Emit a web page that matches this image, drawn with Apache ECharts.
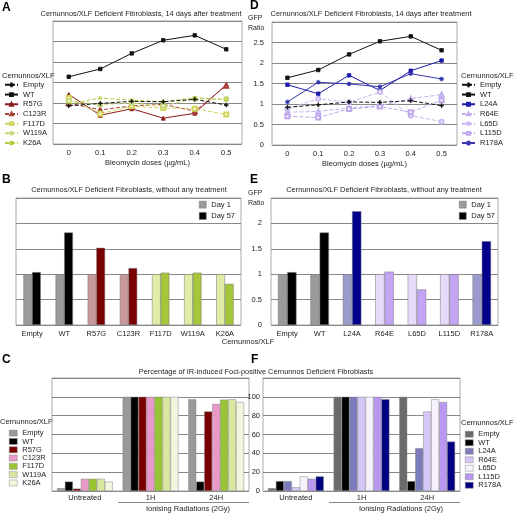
<!DOCTYPE html>
<html><head><meta charset="utf-8">
<script src="https://cdn.jsdelivr.net/npm/echarts@6/dist/echarts.min.js"></script>
<style>html,body{margin:0;padding:0;background:#fff}#c{width:514px;height:513px}</style>
</head><body><div id="c"></div>
<script>
// ---------- DATA ----------
const dosesCats = ['0','0.1','0.2','0.3','0.4','0.5'];
const namesA = ['Empty','WT','R57G','C123R','F117D','W119A','K26A'];
const a_empty = [0.93, 0.99, 1.04, 1.03, 1.09, 0.95];
const a_wt    = [1.64, 1.83, 2.21, 2.53, 2.65, 2.31];
const a_r57g  = [1.21, 0.70, 0.86, 0.63, 0.75, 1.45];
const a_c123r = [1.00, 0.83, 0.93, 0.97, 0.80, 1.42];
const a_f117d = [1.12, 0.74, 0.92, 0.88, 0.86, 0.72];
const a_w119a = [1.05, 0.96, 1.00, 0.93, 1.10, 1.10];
const a_k26a  = [0.97, 1.12, 1.07, 1.03, 1.13, 1.08];

const namesD = ['Empty','WT','L24A','R64E','L65D','L115D','R178A'];
const d_empty = [0.92, 0.98, 1.05, 1.04, 1.08, 0.96];
const d_wt    = [1.64, 1.83, 2.21, 2.53, 2.65, 2.31];
const d_l24a  = [1.47, 1.25, 1.70, 1.33, 1.81, 2.06];
const d_r64e  = [0.80, 0.82, 0.90, 0.96, 1.13, 1.23];
const d_l65d  = [0.88, 1.13, 1.04, 1.29, 0.72, 0.57];
const d_l115d = [0.70, 0.67, 0.88, 0.94, 0.80, 1.09];
const d_r178a = [1.05, 1.53, 1.49, 1.42, 1.74, 1.61];

const catsB = ['Empty','WT','R57G','C123R','F117D','W119A','K26A'];
const b_day1  = [1, 1, 1, 1, 1, 1, 1];
const b_day57 = [1.04, 1.82, 1.52, 1.12, 1.03, 1.03, 0.81];

const catsE = ['Empty','WT','L24A','R64E','L65D','L115D','R178A'];
const e_day1  = [1, 1, 1, 1, 1, 1, 1];
const e_day57 = [1.04, 1.82, 2.24, 1.05, 0.70, 1.00, 1.65];

const dayNames = ['Day 1','Day 57'];

const catsIR = ['Untreated','1H','24H'];
const c_empty = [3, 100, 97.5];
const c_wt    = [10, 100, 10];
const c_r57g  = [2.5, 100, 84.5];
const c_c123r = [13, 100, 92.5];
const c_f117d = [13, 100, 97];
const c_w119a = [13, 100, 97.5];
const c_k26a  = [10, 100, 94.5];

const f_empty = [3, 100, 100];
const f_wt    = [10.5, 100, 10.5];
const f_l24a  = [10.5, 100, 45.5];
const f_r64e  = [4, 100, 84.5];
const f_l65d  = [15.5, 100, 97.5];
const f_l115d = [13, 100, 94.5];
const f_r178a = [15.5, 97.5, 52.5];

// ---------- STYLE ----------
const FONT = 'Liberation Sans, Arial, sans-serif';
const FS = 7.5;
const PLUS = 'path://M-0.7,-5H0.7V-0.7H5V0.7H0.7V5H-0.7V0.7H-5V-0.7H-0.7Z';
const STAR = 'path://M-0.7,-5H0.7V-0.7H5V0.7H0.7V5H-0.7V0.7H-5V-0.7H-0.7Z M-3.9,-3.1L-3.1,-3.9L3.9,3.1L3.1,3.9Z M3.9,-3.1L3.1,-3.9L-3.9,3.1L-3.1,3.9Z';
const tag = k => '\u200B'.repeat(k);
const strip = n => n.replace(/\u200B/g, '');

const lineStylesA = [
  {c:'#111', t:'dashed', s:PLUS, z:6},
  {c:'#111', t:'solid', s:'rect', z:4},
  {c:'#8b1a1a', t:'solid', s:'triangle', z:5},
  {c:'#a8403a', t:'dashed', s:'emptyTriangle', z:5},
  {c:'#d2d45a', t:'dashed', s:'emptyRect', z:5},
  {c:'#c4da7a', t:'dashed', s:'emptyCircle', z:5},
  {c:'#b4cc44', t:'dashed', s:PLUS, z:5, r:45}
];
const lineStylesD = [
  {c:'#111', t:'dashed', s:PLUS, z:6},
  {c:'#111', t:'solid', s:'rect', z:4},
  {c:'#1c1ca8', t:'solid', s:'rect', z:5},
  {c:'#c4b0ee', t:'dashed', s:'emptyTriangle', z:5},
  {c:'#c8b6f0', t:'dashed', s:'emptyCircle', z:5},
  {c:'#bca6ec', t:'dashed', s:'emptyRect', z:5},
  {c:'#3636b0', t:'solid', s:STAR, z:5}
];
const day1B  = ['#9a9a9a','#9a9a9a','#c8989a','#c8989a','#e0eca8','#e0eca8','#e0eca8'];
const day57B = ['#000','#000','#7a0000','#7a0000','#a6c63a','#a6c63a','#a6c63a'];
const day1E  = ['#9a9a9a','#9a9a9a','#9a9acc','#e6dcfa','#e6dcfa','#e6dcfa','#9a9acc'];
const day57E = ['#000','#000','#00008b','#c4a4f4','#c4a4f4','#c4a4f4','#00008b'];
const colC = ['#999999','#000000','#7a0000','#e899c8','#99c433','#d8e8a0','#f2f6dc'];
const colF = ['#6a6a6a','#000000','#7b7bbd','#d6c6f8','#f6f2fd','#b898f0','#000080'];

const grids = [
  {left:53, top:21, width:189, height:123},   // A
  {left:272, top:22, width:185, height:123},  // D
  {left:16, top:198, width:225, height:127},  // B
  {left:271, top:198, width:227, height:127}, // E
  {left:52, top:378, width:197, height:113},  // C
  {left:263, top:378, width:197, height:113}  // F
].map(g => Object.assign({show:true, borderColor:'#aaa', borderWidth:1, backgroundColor:'#fff'}, g));

function xAx(gi, data, extra) {
  return Object.assign({
    type:'category', gridIndex:gi, data:data, boundaryGap:true,
    axisLine:{show:false}, axisTick:{show:false},
    axisLabel:{fontSize:FS, fontFamily:FONT, color:'#222', margin:5}
  }, extra || {});
}
function yAx(gi, max, interval, showLabels, margin) {
  return {
    type:'value', gridIndex:gi, min:0, max:max, interval:interval,
    axisLine:{show:false}, axisTick:{show:false},
    splitLine:{show:true, lineStyle:{color:'#888', width:1}},
    axisLabel:{show:showLabels, fontSize:FS, fontFamily:FONT, color:'#222', margin:margin || 8,
      formatter: v => (v === max ? '' : String(v))}
  };
}

const xAxis = [
  xAx(0, dosesCats, {name:'Bleomycin doses (µg/mL)', nameLocation:'middle', nameGap:15,
    nameTextStyle:{fontSize:FS, fontFamily:FONT, color:'#222'}}),
  xAx(1, dosesCats, {name:'Bleomycin doses (µg/mL)', nameLocation:'middle', nameGap:15,
    nameTextStyle:{fontSize:FS, fontFamily:FONT, color:'#222'}}),
  xAx(2, catsB), xAx(3, catsE),
  xAx(4, catsIR, {axisLabel:{fontSize:FS, fontFamily:FONT, color:'#222', margin:3}}),
  xAx(5, catsIR, {axisLabel:{fontSize:FS, fontFamily:FONT, color:'#222', margin:3}})
];
const yAxis = [
  yAx(0, 3, 0.5, false), yAx(1, 3, 0.5, true, 8),
  yAx(2, 2.5, 0.5, false), yAx(3, 2.5, 0.5, true, 9),
  yAx(4, 120, 20, false), yAx(5, 120, 20, true, 3)
];

const series = [];
function lineSeries(gi, names, arrs, styles, k) {
  names.forEach((n, i) => {
    const st = styles[i];
    series.push({
      type:'line', name:n + tag(k), xAxisIndex:gi, yAxisIndex:gi, data:arrs[i],
      symbol:st.s, symbolSize: st.s === 'rect' ? 3.5 : 4, symbolRotate: st.r || 0,
      z:st.z, lineStyle:{color:st.c, width:1, type: st.t === 'dashed' ? [4,2] : 'solid'},
      itemStyle:{color:st.c, borderColor:st.c, borderWidth:0.8},
      emphasis:{disabled:true}, animation:false
    });
  });
}
lineSeries(0, namesA, [a_empty,a_wt,a_r57g,a_c123r,a_f117d,a_w119a,a_k26a], lineStylesA, 0);
lineSeries(1, namesD, [d_empty,d_wt,d_l24a,d_r64e,d_l65d,d_l115d,d_r178a], lineStylesD, 1);

function daySeries(gi, arr1, arr57, c1, c57, k, gap) {
  [[arr1, c1], [arr57, c57]].forEach((p, j) => {
    series.push({
      type:'bar', name:dayNames[j] + tag(k), xAxisIndex:gi, yAxisIndex:gi,
      data:p[0].map((v, i) => ({value:v, itemStyle:{color:p[1][i]}})),
      itemStyle:{color: j === 0 ? '#9a9a9a' : '#000', borderColor:'#777', borderWidth:0.5},
      barGap:'0%', barCategoryGap:gap, animation:false
    });
  });
}
daySeries(2, b_day1, b_day57, day1B, day57B, 2, '46%');
daySeries(3, e_day1, e_day57, day1E, day57E, 3, '43%');

function irSeries(gi, names, arrs, cols, k) {
  names.forEach((n, i) => {
    series.push({
      type:'bar', name:n + tag(k), xAxisIndex:gi, yAxisIndex:gi, data:arrs[i],
      itemStyle:{color:cols[i], borderColor:'#888', borderWidth:0.5},
      barGap:'0%', barCategoryGap:'15%', animation:false
    });
  });
}
irSeries(4, namesA, [c_empty,c_wt,c_r57g,c_c123r,c_f117d,c_w119a,c_k26a], colC, 4);
irSeries(5, namesD, [f_empty,f_wt,f_l24a,f_r64e,f_l65d,f_l115d,f_r178a], colF, 5);

function legend(names, k, left, top, iw, ih, step, gapTxt, extra) {
  return Object.assign({
    orient:'vertical', left:left, top:top, data:names.map(n => n + tag(k)),
    itemWidth:iw, itemHeight:ih, itemGap:0, itemTextGap:gapTxt, padding:0,
    formatter: strip, selectedMode:false,
    textStyle:{fontSize:FS, fontFamily:FONT, color:'#222', lineHeight:step, height:step}
  }, extra || {});
}
const legends = [
  legend(namesA, 0, 4, 80, 13, 3.5, 9.7, 4),
  legend(namesD, 1, 461, 80, 13, 3.5, 9.7, 4),
  legend(dayNames, 2, 199, 199, 7, 7, 11.3, 2, {icon:'rect', itemStyle:{borderColor:'#777', borderWidth:0.5}}),
  legend(dayNames, 3, 459, 199, 7, 7, 11.3, 2, {icon:'rect', itemStyle:{borderColor:'#777', borderWidth:0.5}}),
  legend(namesA, 4, 9, 429, 8, 6, 8.3, 5, {icon:'rect', itemStyle:{borderColor:'#888', borderWidth:0.5}}),
  legend(namesD, 5, 465, 430, 8, 6, 8.5, 5, {icon:'rect', itemStyle:{borderColor:'#888', borderWidth:0.5}})
];

function txt(x, y, text, o) {
  o = o || {};
  return {type:'text', x:x, y:y, z:50, silent:true, style:{
    text:text, fill:o.fill || '#222', textAlign:o.align || 'left', textVerticalAlign:'middle',
    font:(o.bold ? 'bold ' : '') + (o.size || FS) + 'px ' + FONT}};
}
const graphic = [
  txt(2, 8, 'A', {bold:true, size:12, fill:'#000'}),
  txt(250, 6, 'D', {bold:true, size:12, fill:'#000'}),
  txt(2, 180, 'B', {bold:true, size:12, fill:'#000'}),
  txt(250, 180, 'E', {bold:true, size:12, fill:'#000'}),
  txt(2, 360, 'C', {bold:true, size:12, fill:'#000'}),
  txt(251, 360, 'F', {bold:true, size:12, fill:'#000'}),
  txt(141, 14, 'Cernunnos/XLF Deficient Fibroblasts, 14 days after treatment', {align:'center', size:7.4}),
  txt(371, 14, 'Cernunnos/XLF Deficient Fibroblasts, 14 days after treatment', {align:'center', size:7.4}),
  txt(129, 190, 'Cernunnos/XLF Deficient Fibroblasts, without any treatment', {align:'center', size:7.4}),
  txt(384, 190, 'Cernunnos/XLF Deficient Fibroblasts, without any treatment', {align:'center', size:7.4}),
  txt(256, 372, 'Percentage of IR-induced Foci-positive Cernunnos Deficient Fibroblasts', {align:'center', size:7.4}),
  txt(248, 18, 'GFP', {size:7}), txt(248, 28, 'Ratio', {size:7}),
  txt(248, 193, 'GFP', {size:7}), txt(248, 203, 'Ratio', {size:7}),
  txt(2, 76, 'Cernunnos/XLF'), txt(461, 76, 'Cernunnos/XLF'),
  txt(248, 342, 'Cernunnos/XLF', {align:'center'}),
  txt(0, 422, 'Cernunnos/XLF'), txt(461, 423, 'Cernunnos/XLF'),
  {type:'line', silent:true, shape:{x1:118, y1:502.5, x2:249, y2:502.5}, style:{stroke:'#888', lineWidth:1}},
  {type:'line', silent:true, shape:{x1:329, y1:502.5, x2:460, y2:502.5}, style:{stroke:'#888', lineWidth:1}},
  txt(188, 509, 'Ionising Radiations (2Gy)', {align:'center'}),
  txt(401, 509, 'Ionising Radiations (2Gy)', {align:'center'})
];

const chart = echarts.init(document.getElementById('c'), null, {renderer:'canvas'});
chart.setOption({
  backgroundColor:'#fff', animation:false,
  textStyle:{fontFamily:FONT},
  grid:grids, xAxis:xAxis, yAxis:yAxis, series:series, legend:legends, graphic:graphic
});
</script></body></html>
